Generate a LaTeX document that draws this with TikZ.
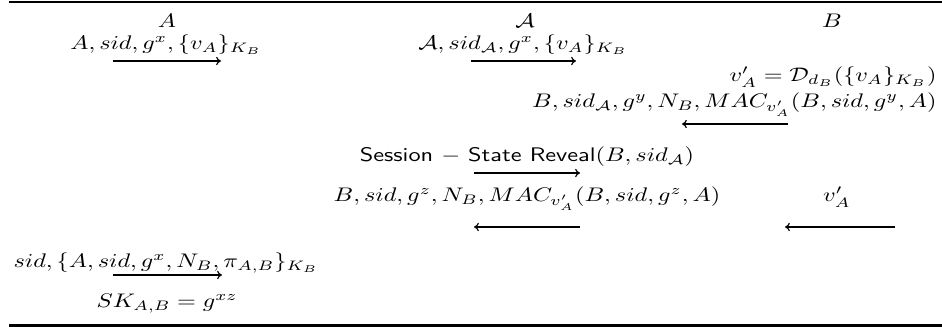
\documentclass[tikz,border=0pt]{standalone}
\usepackage{amsmath}
\usepackage{amssymb}
\usepackage{graphicx}
\usepackage{tikz}
\usetikzlibrary{arrows.meta,positioning,calc}
\newcommand{\ksflat}[1]{\scalebox{1}[0.81]{#1}}
\tikzset{
  ksparty/.style={anchor=base, inner sep=0pt},
  ksmsg/.style={anchor=base, inner sep=0pt},
  ksmsgright/.style={ksmsg, anchor=base east},
  ksto/.style={-{To[length=2pt,width=3.4pt]}, draw=black, line width=0.48pt},
  ksrule/.style={draw=black, line width=0.87pt},
}

\begin{document}
\begin{tikzpicture}[x=0.412pt, y=-0.412pt]
  \useasboundingbox (0,0) rectangle (942,327);

  % rules
  \coordinate (topl) at (9,2);
  \coordinate (topr) at (942,2);
  \coordinate (botl) at (9,325.5);
  \coordinate (botr) at (942,325.5);
  \draw[ksrule] (topl) -- (topr);
  \draw[ksrule] (botl) -- (botr);

  % parties
  \node[ksparty] (pA)   at (167,28) {\ksflat{$A$}};
  \node[ksparty] (pAdv) at (525,28) {\ksflat{$\mathcal{A}$}};
  \node[ksparty] (pB)   at (832,28) {\ksflat{$B$}};

  % messages
  \node[ksmsg] (m1)  at (166,50) {\ksflat{$A, sid, g^x, \{v_A\}_{K_B}$}};
  \node[ksmsg] (m1a) at (523,50) {\ksflat{$\mathcal{A}, sid_{\mathcal{A}}, g^x, \{v_A\}_{K_B}$}};
  \node[ksmsgright] (dec) at (937,82) {\ksflat{$v'_A = \mathcal{D}_{d_B}(\{v_A\}_{K_B})$}};
  \node[ksmsgright] (m2)  at (937,108) {\ksflat{$B, sid_{\mathcal{A}}, g^y, N_B, MAC_{v'_A}(B, sid, g^y, A)$}};
  \node[ksmsg] (rev) at (527,162) {\ksflat{\textsf{Session} $-$ \textsf{State Reveal}$(B, sid_{\mathcal{A}})$}};
  \node[ksmsg] (m2a) at (527,202) {\ksflat{$B, sid, g^z, N_B, MAC_{v'_A}(B, sid, g^z, A)$}};
  \node[ksmsg] (leak) at (837,202) {\ksflat{$v'_A$}};
  \node[ksmsg] (m3)  at (166,268) {\ksflat{$sid, \{A, sid, g^x, N_B, \pi_{A,B}\}_{K_B}$}};
  \node[ksmsg] (key) at (167,308) {\ksflat{$SK_{A,B} = g^{xz}$}};

  % arrows
  \coordinate (a1s) at (113,61);  \coordinate (a1e) at (221,61);
  \coordinate (a2s) at (471,61);  \coordinate (a2e) at (576,61);
  \coordinate (a3s) at (788,124); \coordinate (a3e) at (682,124);
  \coordinate (a4s) at (474,173); \coordinate (a4e) at (580,173);
  \coordinate (a5s) at (580,227); \coordinate (a5e) at (474,227);
  \coordinate (a6s) at (895,227); \coordinate (a6e) at (785,227);
  \coordinate (a7s) at (113,275); \coordinate (a7e) at (222,275);
  \draw[ksto] (a1s) -- (a1e);
  \draw[ksto] (a2s) -- (a2e);
  \draw[ksto] (a3s) -- (a3e);
  \draw[ksto] (a4s) -- (a4e);
  \draw[ksto] (a5s) -- (a5e);
  \draw[ksto] (a6s) -- (a6e);
  \draw[ksto] (a7s) -- (a7e);
\end{tikzpicture}
\end{document}
